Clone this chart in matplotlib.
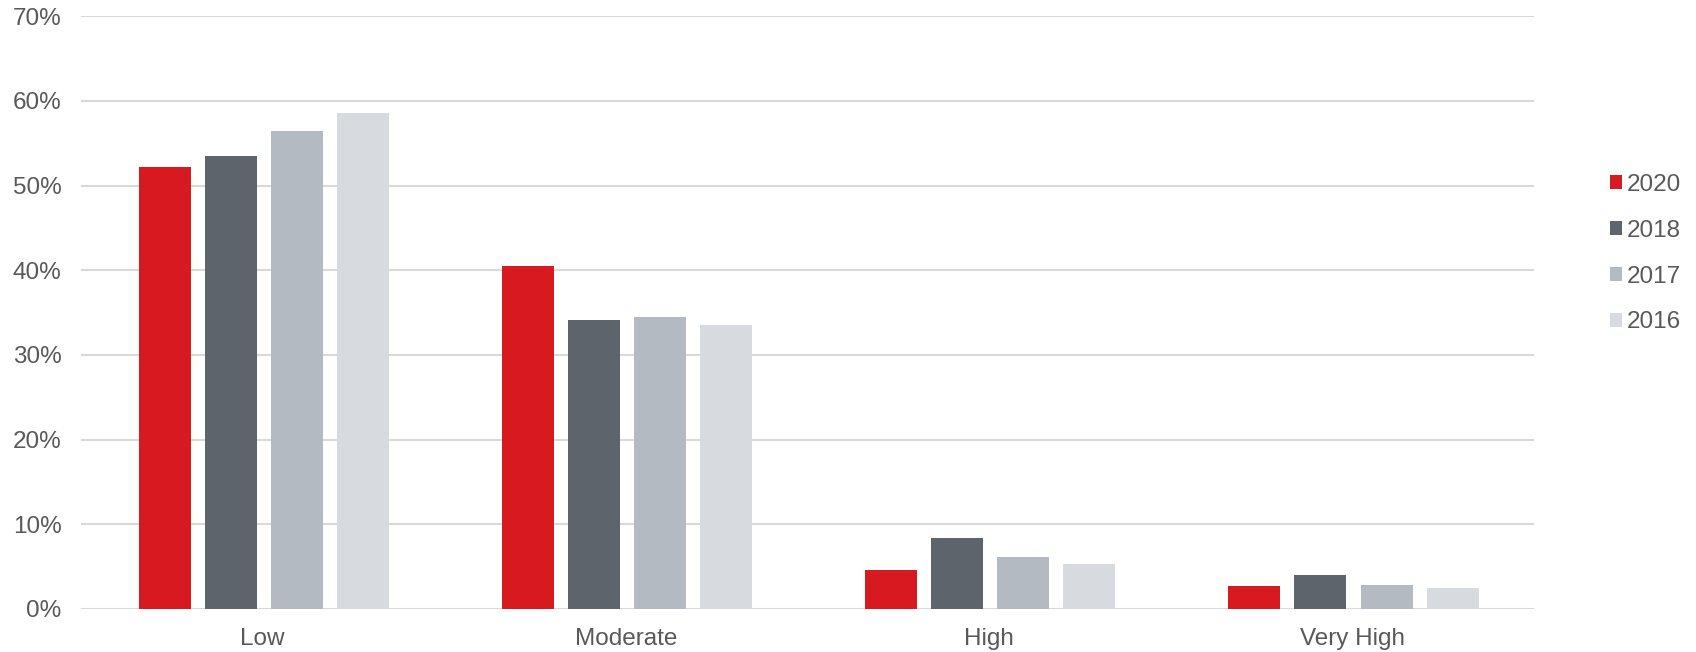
import matplotlib
matplotlib.use("Agg")
import matplotlib.pyplot as plt
import numpy as np
from matplotlib.patches import Patch
from matplotlib.ticker import FuncFormatter

# Share of responses per risk level, by survey year (percent)
categories = ["Low", "Moderate", "High", "Very High"]
years = ["2020", "2018", "2017", "2016"]
values_2020 = [52.2, 40.5, 4.6, 2.7]
values_2018 = [53.5, 34.1, 8.4, 4.0]
values_2017 = [56.5, 34.5, 6.1, 2.8]
values_2016 = [58.6, 33.5, 5.3, 2.5]
series = [values_2020, values_2018, values_2017, values_2016]
colors = ["#D71920", "#5D646B", "#B3BAC1", "#D7DADE"]

plt.rcParams["font.family"] = ["Liberation Sans", "DejaVu Sans"]
text_color = "#595959"
font_size = 17.5

fig = plt.figure(figsize=(16.96, 6.52), dpi=100)
ax = fig.add_axes([0.0478, 0.066, 0.8567, 0.909])

x = np.arange(len(categories))
pitch = 0.182
width = 0.143
for i, (vals, col) in enumerate(zip(series, colors)):
    ax.bar(x + (i - 1.5) * pitch + 0.003, vals, width=width, color=col, zorder=3)

ax.set_xlim(-0.5, len(categories) - 0.5)
ax.set_ylim(0, 70)
ax.set_yticks(np.arange(0, 71, 10))
ax.yaxis.set_major_formatter(FuncFormatter(lambda v, _: f"{v:.0f}%"))
ax.set_xticks(x)
ax.set_xticklabels(categories)

ax.grid(axis="y", color="#D9D9D9", linewidth=1.5, zorder=0)
ax.set_axisbelow(True)
for s in ax.spines.values():
    s.set_visible(False)
ax.tick_params(axis="y", length=0, pad=14, labelsize=font_size, labelcolor=text_color)
ax.tick_params(axis="x", length=0, pad=14, labelsize=font_size, labelcolor=text_color)

handles = [Patch(facecolor=c, edgecolor="none") for c in colors]
leg = fig.legend(handles, years, loc="center left",
                 bbox_to_anchor=(0.9436, 0.611), frameon=False,
                 fontsize=font_size, handlelength=0.5, handleheight=0.5,
                 handletextpad=0.2, labelspacing=0.98, borderaxespad=0)
for t in leg.get_texts():
    t.set_color(text_color)

fig.savefig("out.png", dpi=100)
